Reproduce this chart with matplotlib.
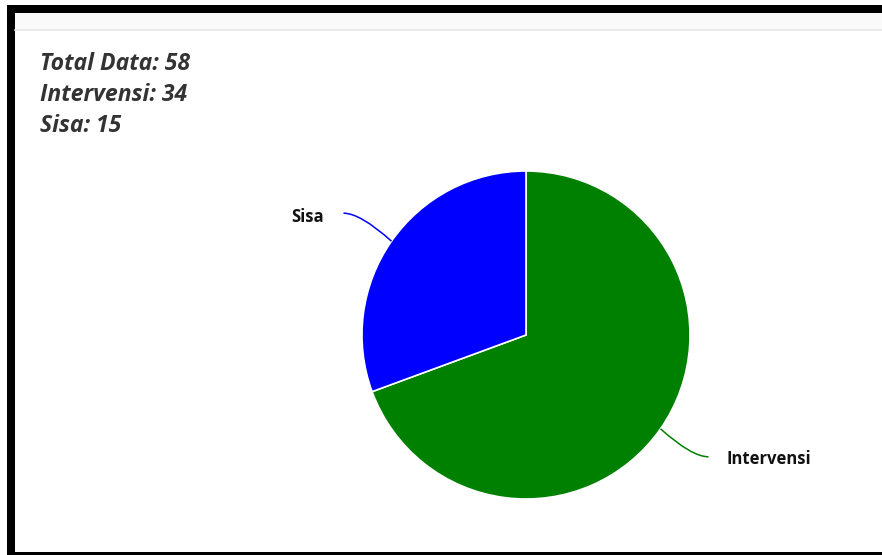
import numpy as np
import matplotlib
matplotlib.use("Agg")
import matplotlib.pyplot as plt
from matplotlib.patches import Rectangle, PathPatch
from matplotlib.path import Path

labels = ["Intervensi", "Sisa"]
values = [34, 15]
colors = ["#008000", "#0000ff"]
total_data = 58

W, H = 882, 555


def main():
    fig = plt.figure(figsize=(W / 100, H / 100), dpi=100)
    ax = fig.add_axes([0, 0, 1, 1])
    ax.set_xlim(0, W)
    ax.set_ylim(0, H)
    ax.axis("off")

    # panel frame: heavy black on top/left/bottom, light header strip
    ax.add_patch(Rectangle((15, 525), W - 15, 17, color="#fafafa", lw=0))
    ax.plot([15, W], [525, 525], color="#e6e6e6", lw=1.2)
    ax.add_patch(Rectangle((7, 542), W - 7, 8, color="black", lw=0))
    ax.add_patch(Rectangle((7, 0), 8, 550, color="black", lw=0))
    ax.add_patch(Rectangle((7, 0), W - 7, 3, color="black", lw=0))

    summary = [
        f"Total Data: {total_data}",
        f"Intervensi: {values[0]}",
        f"Sisa: {values[1]}",
    ]
    for i, line in enumerate(summary):
        ax.text(40, H - 64 - 31 * i, line, fontsize=16.6, fontweight="bold",
                fontstyle="italic", family="Open Sans", color="#333333",
                va="center", ha="left")

    cx, cy, r = 526, H - 335, 164
    wedges, _ = ax.pie(values, colors=colors, startangle=90, counterclock=False,
                       center=(cx, cy), radius=r,
                       wedgeprops=dict(edgecolor="white", linewidth=1.2))
    ax.set_xlim(0, W)
    ax.set_ylim(0, H)
    ax.set_aspect("equal")

    for w, lab, col in zip(wedges, labels, colors):
        mid = np.deg2rad((w.theta1 + w.theta2) / 2)
        sx, sy = cx + r * np.cos(mid), cy + r * np.sin(mid)
        dx = 48 * np.sign(np.cos(mid))
        dy = 28 * np.sign(np.sin(mid))
        ex, ey = sx + dx, sy + dy
        path = Path([(sx, sy), (sx + 0.65 * dx, ey), (ex, ey)],
                    [Path.MOVETO, Path.CURVE3, Path.CURVE3])
        ax.add_patch(PathPatch(path, fill=False, edgecolor=col, lw=1.1))
        if dx < 0:
            ax.text(ex - 20, ey - 4, lab, ha="right", va="center", fontsize=12,
                    fontweight="bold", family="Open Sans", color="#111111")
        else:
            ax.text(ex + 18, ey - 2, lab, ha="left", va="center", fontsize=12,
                    fontweight="bold", family="Open Sans", color="#111111")

    fig.savefig("out.png", dpi=100)


if __name__ == "__main__":
    main()
